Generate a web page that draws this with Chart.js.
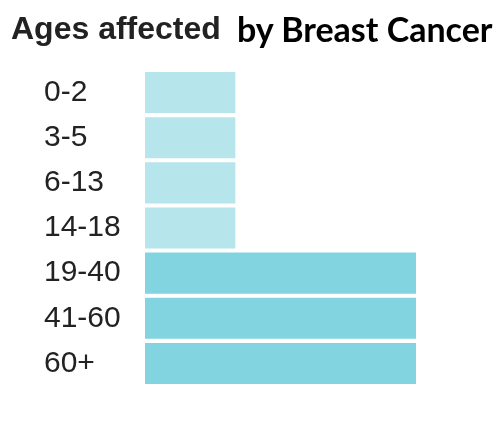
<!DOCTYPE html>
<html>
<head>
<meta charset="utf-8">
<script src="https://cdn.jsdelivr.net/npm/chart.js@4"></script>
<style>
  body { margin: 0; background: #fff; }
  #wrap { position: relative; width: 498px; height: 426px; }
  .title { position: absolute; white-space: nowrap; line-height: 1; }
  #titleA { left: 11px; top: 10px; font: bold 32px "Liberation Sans", Arial, sans-serif; color: #222; }
  #titleB { left: 237px; top: 8px; font: bold 34px Lato, sans-serif; color: #000; }
</style>
</head>
<body>
<div id="wrap">
  <canvas id="chart" width="498" height="426"></canvas>
  <div class="title" id="titleA">Ages affected</div>
  <div class="title" id="titleB">by Breast Cancer</div>
</div>
<script>
const ageGroups = ['0-2', '3-5', '6-13', '14-18', '19-40', '41-60', '60+'];
const affected = [1, 1, 1, 1, 3, 3, 3];
const barColors = ['#b6e5eb', '#b6e5eb', '#b6e5eb', '#b6e5eb', '#82d5e0', '#82d5e0', '#82d5e0'];

const ctx = document.getElementById('chart').getContext('2d');
const myChart = new Chart(ctx, {
  type: 'bar',
  data: {
    labels: ageGroups,
    datasets: [{
      data: affected,
      backgroundColor: barColors,
      borderWidth: 0,
      barPercentage: 0.91,
      categoryPercentage: 1
    }]
  },
  options: {
    indexAxis: 'y',
    responsive: false,
    animation: false,
    layout: { padding: { left: 44, right: 82, top: 70, bottom: 40 } },
    plugins: { legend: { display: false }, tooltip: { enabled: false } },
    scales: {
      x: { display: false, min: 0, max: 3 },
      y: {
        grid: { display: false },
        border: { display: false },
        ticks: {
          crossAlign: 'far',
          color: '#222',
          font: { family: '"Liberation Sans", Arial, sans-serif', size: 30 }
        },
        afterFit: (scale) => { scale.width = 101; }
      }
    }
  }
});
</script>
</body>
</html>
